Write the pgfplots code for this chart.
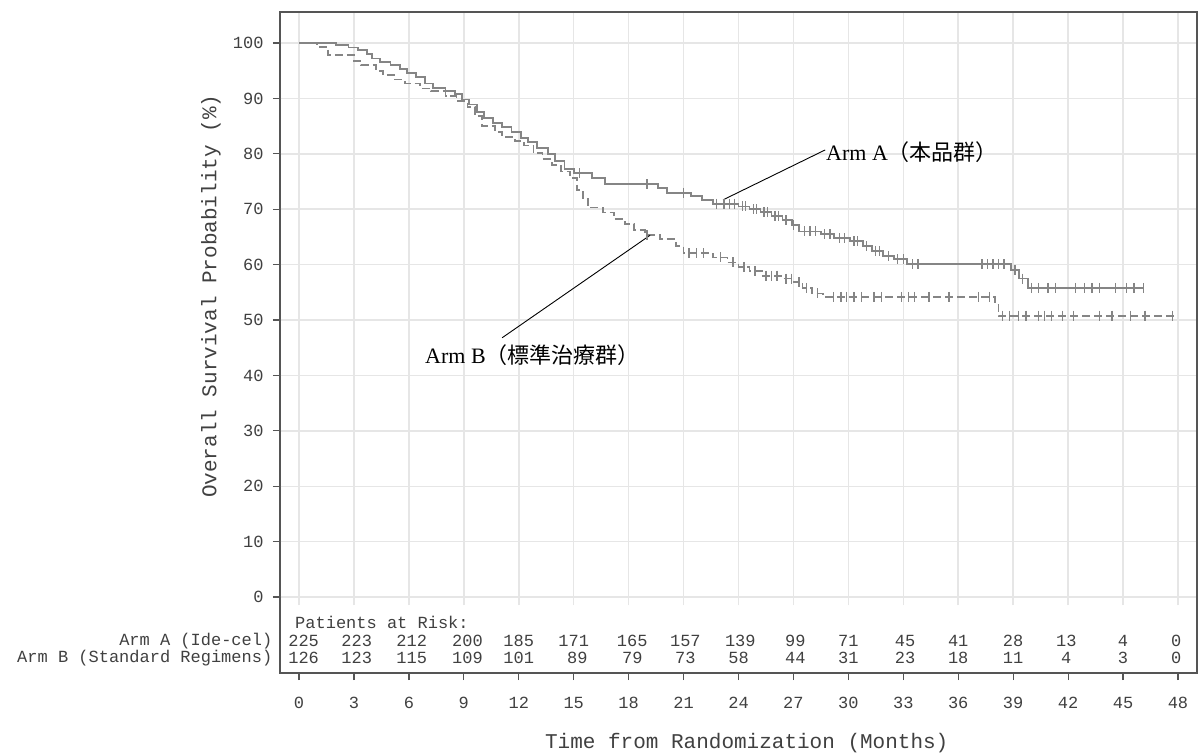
\documentclass[border=0pt]{standalone}
\usepackage{fontspec}
\usepackage{pgfplots}
\pgfplotsset{compat=1.18}
\setmainfont{Liberation Serif}
\setmonofont{Liberation Mono}
\newfontfamily\cjk{Noto Sans CJK JP}
\definecolor{curve}{HTML}{858585}
\definecolor{frame}{HTML}{555555}
\definecolor{gridc}{HTML}{E6E6E6}
\definecolor{txt}{HTML}{404040}
\newcommand{\mono}{\ttfamily\fontsize{17}{20}\selectfont}
\newcommand{\monobig}{\ttfamily\fontsize{21}{24}\selectfont}
\begin{document}
\begin{tikzpicture}
\begin{axis}[
  at={(0,0)}, anchor=south west,
  scale only axis, width=917pt, height=661pt,
  xmin=-1.04, xmax=49.04, ymin=-13.7, ymax=105.6,
  xtick={0,3,...,48}, ytick={0,10,...,100},
  xtick pos=bottom, ytick pos=left,
  tick align=outside, major tick length=7pt,
  tick style={frame, line width=1.2pt},
  axis line style={frame, line width=2pt},
  /pgf/number format/assume math mode=true,
  ticklabel style={font=\mono, text=txt},
  xticklabel style={yshift=-14pt},
  yticklabel style={xshift=-6pt},
  clip=false,
  xlabel={Time from Randomization (Months)},
  ylabel={Overall Survival Probability (\%)},
  xlabel style={at={(axis description cs:0.509,-0.106)}, anchor=center, font=\monobig, text=txt},
  ylabel style={at={(axis description cs:-0.0752,0.57)}, anchor=center, font=\monobig, text=txt},
]
% grid
\pgfplotsinvokeforeach{0,3,6,9,12,15,18,21,24,27,30,33,36,39,42,45,48}{
  \draw[gridc, line width=1.5pt] (axis cs:#1,-1.5) -- (axis cs:#1,105.4);
}
\pgfplotsinvokeforeach{0,10,20,30,40,50,60,70,80,90,100}{
  \draw[gridc, line width=1.5pt] (axis cs:-1.0,#1) -- (axis cs:49.0,#1);
}
% Arm A
\addplot[const plot, curve, line width=1.8pt] coordinates {
(0,100) (2.0,99.6) (2.7,99.2) (3.2,98.7) (3.7,98.0) (4.0,97.2) (4.4,96.6) (5.0,96.0)
(5.5,95.3) (5.9,94.6) (6.4,93.8) (6.9,92.7) (7.3,91.9) (8.0,91.3) (8.5,90.8) (8.9,89.8)
(9.3,88.9) (9.7,87.6) (10.1,86.5) (10.6,85.6) (11.1,84.8) (11.6,83.9) (12.1,82.9) (12.5,82.2)
(13.0,81.0) (13.6,80.0) (14.0,78.7) (14.5,77.3) (15.0,76.5) (16.0,75.7) (16.7,74.5) (19.6,73.8)
(20.1,73.0) (21.4,72.4) (22.0,71.6) (22.6,71.0) (24.0,70.5) (24.6,70.0) (25.2,69.5) (25.8,68.8)
(26.4,68.0) (26.9,67.2) (27.3,66.0) (28.5,65.5) (29.2,64.8) (30.1,64.2) (30.8,63.3) (31.3,62.5)
(31.9,61.6) (32.5,61.0) (33.2,60.1) (38.9,59.0) (39.3,57.5) (39.8,55.8) (46.1,55.8)
};
% Arm B
\addplot[const plot, curve, line width=1.8pt, dash pattern=on 8pt off 4pt] coordinates {
(0,100) (1.0,99.3) (1.6,97.8) (3.0,96.7) (3.4,96.0) (4.2,95.0) (4.6,94.2) (5.2,93.4)
(5.8,92.7) (6.6,91.8) (7.2,91.3) (8.0,90.4) (8.6,89.6) (9.2,88.4) (9.6,86.8) (10.0,85.0)
(10.7,84.0) (11.1,83.1) (11.8,82.3) (12.3,81.5) (12.8,80.2) (13.3,79.0) (13.8,78.0) (14.3,76.8)
(14.8,75.6) (15.2,73.5) (15.5,71.8) (15.8,70.3) (16.6,69.4) (17.2,68.2) (17.8,67.3) (18.3,66.2)
(18.9,65.3) (19.7,64.6) (20.6,63.3) (21.0,62.1) (22.6,61.3) (23.4,60.4) (24.0,59.6) (24.6,58.8)
(25.3,58.0) (26.4,57.5) (27.0,56.8) (27.5,55.8) (28.0,54.8) (28.6,54.2) (38.0,52.8) (38.2,50.8)
(48.0,50.8)
};
% censor marks Arm A
\addplot[only marks, mark=|, mark size=5pt, curve, mark options={line width=1.3pt}] coordinates {
(15.3,76.5) (19.0,74.5) (21.0,73.0) (22.8,71.0) (23.2,71.0) (23.5,71.0) (23.8,71.0) (24.2,70.5)
(24.4,70.5) (24.8,70.0) (25.0,70.0) (25.4,69.5) (25.6,69.5) (26.0,68.8) (26.2,68.8) (26.6,68.0)
(27.0,67.2) (27.6,66.0) (27.9,66.0) (28.2,66.0) (28.7,65.5) (29.0,65.5) (29.5,64.8) (29.8,64.8)
(30.3,64.2) (30.5,64.2) (31.0,63.3) (31.5,62.5) (31.7,62.5) (32.2,61.6) (32.7,61.0) (33.0,61.0)
(33.5,60.1) (33.8,60.1) (37.3,60.1) (37.6,60.1) (37.9,60.1) (38.2,60.1) (38.5,60.1) (39.1,59.0)
(39.5,57.5) (40.0,55.8) (40.4,55.8) (40.9,55.8) (41.3,55.8) (42.4,55.8) (42.9,55.8) (43.3,55.8)
(43.7,55.8) (44.6,55.8) (45.2,55.8) (45.6,55.8) (46.1,55.8)
};
% censor marks Arm B
\addplot[only marks, mark=|, mark size=5pt, curve, mark options={line width=1.3pt}] coordinates {
(19.0,65.3) (21.3,62.1) (21.7,62.1) (22.1,62.1) (23.0,61.3) (23.7,60.4) (24.3,59.6) (24.9,58.8)
(25.5,58.0) (25.8,58.0) (26.1,58.0) (26.6,57.5) (26.9,57.5) (27.3,56.8) (27.7,55.8) (28.3,54.8)
(29.2,54.2) (29.6,54.2) (29.9,54.2) (30.3,54.2) (30.7,54.2) (31.4,54.2) (31.8,54.2) (32.9,54.2)
(33.3,54.2) (33.6,54.2) (34.4,54.2) (35.5,54.2) (37.1,54.2) (37.7,54.2) (38.4,50.8) (38.8,50.8)
(39.3,50.8) (39.7,50.8) (40.4,50.8) (40.7,50.8) (41.1,50.8) (41.7,50.8) (42.3,50.8) (43.7,50.8)
(44.4,50.8) (45.4,50.8) (46.2,50.8) (47.7,50.8)
};
% risk table
\addplot[only marks, mark=none, nodes near coords, point meta=explicit symbolic,
  nodes near coords style={anchor=center, font=\mono, text=txt}] coordinates {
(0.25,-7.9)[225] (3.15,-7.9)[223] (6.15,-7.9)[212] (9.2,-7.9)[200] (12.0,-7.9)[185] (15.0,-7.9)[171]
(18.2,-7.9)[165] (21.1,-7.9)[157] (24.1,-7.9)[139] (27.1,-7.9)[99] (30.0,-7.9)[71] (33.1,-7.9)[45]
(36.0,-7.9)[41] (39.0,-7.9)[28] (41.9,-7.9)[13] (45.0,-7.9)[4] (47.9,-7.9)[0]
(0.25,-11.0)[126] (3.15,-11.0)[123] (6.15,-11.0)[115] (9.2,-11.0)[109] (12.0,-11.0)[101] (15.2,-11.0)[89]
(18.2,-11.0)[79] (21.1,-11.0)[73] (24.0,-11.0)[58] (27.1,-11.0)[44] (30.0,-11.0)[31] (33.1,-11.0)[23]
(36.0,-11.0)[18] (39.0,-11.0)[11] (41.9,-11.0)[4] (45.0,-11.0)[3] (47.9,-11.0)[0]
};
\node[anchor=west, font=\mono, text=txt, inner sep=0pt] at (axis cs:-0.22,-4.5) {Patients at Risk:};
\node[anchor=east, font=\mono, text=txt, inner sep=0pt] at (axis cs:-1.45,-7.9) {Arm A (Ide-cel)};
\node[anchor=east, font=\mono, text=txt, inner sep=0pt] at (axis cs:-1.45,-11.0) {Arm B (Standard Regimens)};
% annotations
\draw[black, line width=0.9pt] (axis cs:23.16,71.7) -- (axis cs:28.73,80.7);
\node[anchor=west, inner sep=0pt, font=\fontsize{22}{26}\selectfont] at (axis cs:28.78,80.3) {Arm A{\cjk （本品群）}};
\draw[black, line width=0.9pt] (axis cs:19.17,65.3) -- (axis cs:11.09,46.8);
\node[anchor=west, inner sep=0pt, font=\fontsize{22}{26}\selectfont] at (axis cs:6.88,43.7) {Arm B{\cjk （標準治療群）}};
\end{axis}
\pgfresetboundingbox
\path (-280pt,-80pt) rectangle (918pt,673pt);
\end{tikzpicture}
\end{document}
